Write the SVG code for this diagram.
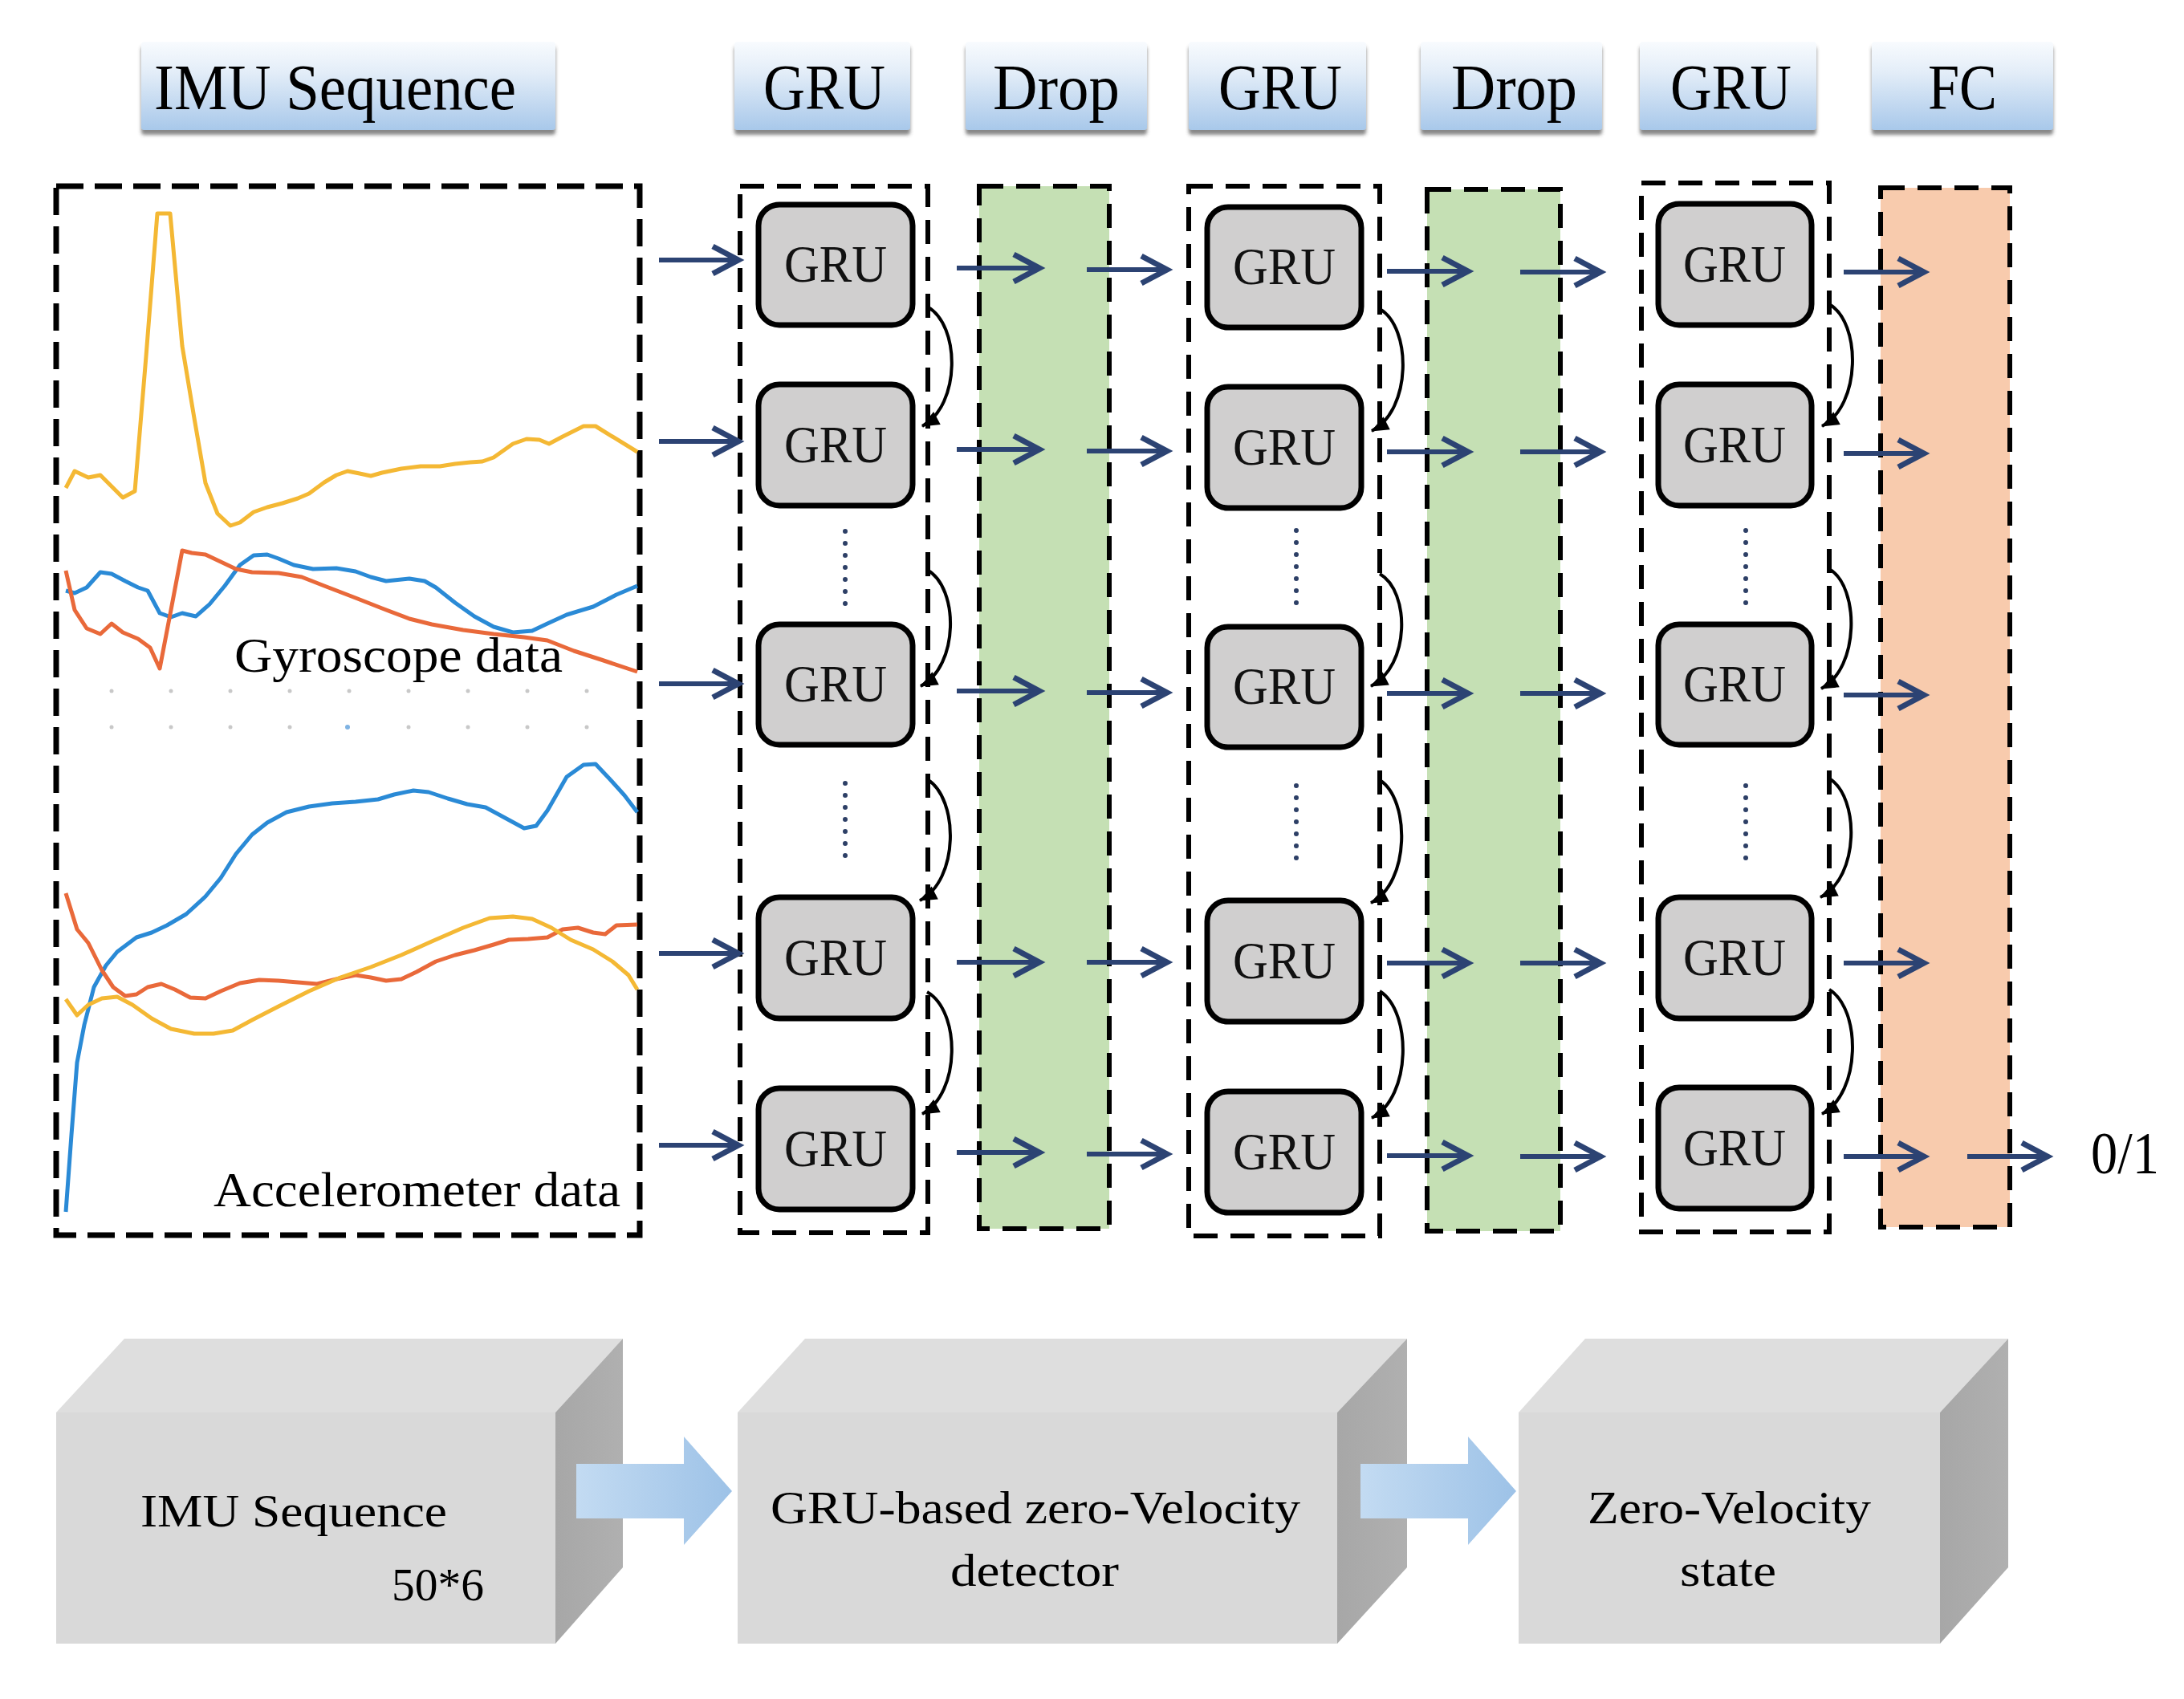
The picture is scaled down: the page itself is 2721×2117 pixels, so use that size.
<svg xmlns="http://www.w3.org/2000/svg" width="2721" height="2117" viewBox="0 0 2721 2117">
<defs>
<linearGradient id="hdr" x1="0" y1="0" x2="0" y2="1">
<stop offset="0" stop-color="#f8fbfe"/>
<stop offset="0.35" stop-color="#e3edf8"/>
<stop offset="1" stop-color="#a8c8ea"/>
</linearGradient>
<linearGradient id="blk" x1="0" y1="0" x2="1" y2="0">
<stop offset="0" stop-color="#c3dbf2"/>
<stop offset="1" stop-color="#9dc2e7"/>
</linearGradient>
<linearGradient id="side" x1="0" y1="0" x2="1" y2="0">
<stop offset="0" stop-color="#a7a7a7"/>
<stop offset="1" stop-color="#b0b0b0"/>
</linearGradient>
<filter id="shd" x="-5%" y="-10%" width="110%" height="130%">
<feDropShadow dx="0" dy="6" stdDeviation="2" flood-color="#4a4a4a" flood-opacity="0.65"/>
</filter>
<marker id="ah" markerUnits="userSpaceOnUse" markerWidth="48" markerHeight="48" viewBox="0 0 48 48" refX="40" refY="24" orient="auto">
<path d="M8,7 L40,24 L8,41" fill="none" stroke="#2c4373" stroke-width="7"/>
</marker>
<marker id="ahk" markerUnits="userSpaceOnUse" markerWidth="30" markerHeight="30" viewBox="0 0 30 30" refX="24" refY="15" orient="auto">
<path d="M3,6 L25,15 L3,24 Z" fill="#000"/>
</marker>
</defs>
<style>
.hd{fill:url(#hdr);filter:url(#shd)}
.ht{font-family:"Liberation Serif","Times New Roman",serif;font-size:80px;fill:#000}
.box{fill:none;stroke:#000;stroke-width:6;stroke-dasharray:30 16}
.gbox{fill:#c5e0b4;stroke:#000;stroke-width:6;stroke-dasharray:30 16}
.obox{fill:#f8cbad;stroke:#000;stroke-width:6;stroke-dasharray:30 16}
.cell{fill:#d0cfcf;stroke:#000;stroke-width:7}
.ct{font-family:"Liberation Serif","Times New Roman",serif;font-size:66px;fill:#111;text-anchor:middle}
.arr{fill:none;stroke:#2c4373;stroke-width:6;marker-end:url(#ah)}
.arc{fill:none;stroke:#000;stroke-width:4;marker-end:url(#ahk)}
.dots{fill:none;stroke:#2d3f66;stroke-width:6;stroke-linecap:round;stroke-dasharray:0 15}
.wy{fill:none;stroke:#f4b834;stroke-width:5;stroke-linejoin:round}
.wb{fill:none;stroke:#2a8ad6;stroke-width:5;stroke-linejoin:round}
.wo{fill:none;stroke:#e9693a;stroke-width:5;stroke-linejoin:round}
.lt{font-family:"Liberation Serif","Times New Roman",serif;font-size:62px;fill:#000}
.bt{font-family:"Liberation Serif","Times New Roman",serif;font-size:58px;fill:#000}
.front{fill:#d9d9d9}
.top{fill:#dedede}
.sd{fill:url(#side)}
.ba{fill:url(#blk)}
.tick{fill:#c8c8c8}
</style>

<g id="headers">
<g id="hdr-imu"><rect class="hd" x="176" y="52" width="516" height="110" rx="4"/><text class="ht" x="192" y="136" textLength="451" lengthAdjust="spacingAndGlyphs">IMU Sequence</text></g>
<g id="hdr-gru1"><rect class="hd" x="915" y="52" width="219" height="110" rx="4"/><text class="ht" x="951" y="136" textLength="152" lengthAdjust="spacingAndGlyphs">GRU</text></g>
<g id="hdr-drop1"><rect class="hd" x="1203" y="52" width="226" height="110" rx="4"/><text class="ht" x="1237" y="136" textLength="158" lengthAdjust="spacingAndGlyphs">Drop</text></g>
<g id="hdr-gru2"><rect class="hd" x="1481" y="52" width="221" height="110" rx="4"/><text class="ht" x="1518" y="136" textLength="154" lengthAdjust="spacingAndGlyphs">GRU</text></g>
<g id="hdr-drop2"><rect class="hd" x="1770" y="52" width="226" height="110" rx="4"/><text class="ht" x="1808" y="136" textLength="157" lengthAdjust="spacingAndGlyphs">Drop</text></g>
<g id="hdr-gru3"><rect class="hd" x="2043" y="52" width="220" height="110" rx="4"/><text class="ht" x="2081" y="136" textLength="151" lengthAdjust="spacingAndGlyphs">GRU</text></g>
<g id="hdr-fc"><rect class="hd" x="2332" y="52" width="226" height="110" rx="4"/><text class="ht" x="2402" y="136" textLength="86" lengthAdjust="spacingAndGlyphs">FC</text></g>
</g>

<g id="imu-data">
<rect class="box" x="70" y="232" width="727" height="1307" style="stroke-width:7;stroke-dasharray:34 14"/>
<g id="ticks">
<circle class="tick" cx="139" cy="861" r="2.5"/><circle class="tick" cx="213" cy="861" r="2.5"/><circle class="tick" cx="287" cy="861" r="2.5"/><circle class="tick" cx="361" cy="861" r="2.5"/><circle class="tick" cx="435" cy="861" r="2.5"/><circle class="tick" cx="509" cy="861" r="2.5"/><circle class="tick" cx="583" cy="861" r="2.5"/><circle class="tick" cx="657" cy="861" r="2.5"/><circle class="tick" cx="731" cy="861" r="2.5"/>
<circle class="tick" cx="139" cy="906" r="2.5"/><circle class="tick" cx="213" cy="906" r="2.5"/><circle class="tick" cx="287" cy="906" r="2.5"/><circle class="tick" cx="361" cy="906" r="2.5"/><circle cx="433" cy="906" r="3" fill="#7fb3e3"/><circle class="tick" cx="509" cy="906" r="2.5"/><circle class="tick" cx="583" cy="906" r="2.5"/><circle class="tick" cx="657" cy="906" r="2.5"/><circle class="tick" cx="731" cy="906" r="2.5"/>
</g>
<polyline class="wy" points="82,608 93,587 110,595 125,592 139,606 153,620 168,612 182,444 196,266 212,266 227,431 242,521 256,602 271,640 287,655 299,651 316,638 333,632 352,627 371,621 385,615 404,601 419,592 433,587 448,590 462,593 476,589 500,584 524,581 548,581 567,578 586,576 601,575 615,570 639,553 656,547 672,548 684,553 701,544 727,531 742,531 763,544 794,563"/>
<polyline class="wb" points="82,736 93,739 108,732 125,713 139,715 156,724 172,732 184,736 199,764 213,769 227,764 244,768 261,753 280,730 299,704 316,692 333,691 347,696 366,704 390,709 419,708 443,712 462,719 481,724 510,721 529,724 543,732 567,751 591,768 615,781 639,788 663,786 682,777 706,766 739,756 768,741 794,730"/>
<polyline class="wo" points="82,711 93,760 108,783 125,790 139,777 153,788 172,796 187,807 199,833 213,760 227,686 239,689 256,691 275,700 294,709 314,713 347,714 376,719 404,730 443,745 476,758 510,771 538,778 577,785 615,790 653,794 682,798 715,811 749,822 794,837"/>
<text class="lt" x="292" y="837" textLength="409" lengthAdjust="spacingAndGlyphs">Gyroscope data</text>
<polyline class="wb" points="82,1510 89,1414 96,1324 105,1277 117,1230 132,1203 146,1186 170,1168 189,1162 208,1153 232,1139 256,1117 275,1094 294,1064 314,1040 333,1025 357,1012 385,1005 414,1001 443,999 471,996 491,990 515,985 534,987 558,995 582,1002 605,1006 629,1019 653,1032 668,1029 682,1010 706,968 727,953 742,952 759,970 778,991 794,1012"/>
<polyline class="wo" points="82,1113 96,1158 110,1175 127,1209 141,1230 156,1241 170,1239 184,1230 201,1226 218,1233 237,1243 256,1244 275,1235 299,1225 323,1221 347,1222 371,1224 395,1226 419,1220 443,1215 462,1218 481,1222 500,1220 519,1211 543,1198 567,1190 591,1184 615,1177 634,1171 658,1170 682,1168 701,1158 720,1156 739,1162 754,1164 768,1153 794,1152"/>
<polyline class="wy" points="82,1245 96,1265 110,1252 127,1244 146,1242 165,1252 189,1269 213,1282 242,1288 266,1288 290,1284 314,1271 347,1254 385,1235 424,1218 462,1205 500,1190 538,1173 577,1156 610,1144 639,1142 663,1145 687,1156 711,1171 739,1183 763,1198 783,1215 794,1233"/>
<text class="lt" x="266" y="1503" textLength="507" lengthAdjust="spacingAndGlyphs">Accelerometer data</text>
</g>

<g id="drop1"><rect class="gbox" x="1220" y="232" width="162" height="1299"/></g>
<g id="drop2"><rect class="gbox" x="1778" y="236" width="166" height="1298"/></g>
<g id="fc"><rect class="obox" x="2343" y="234" width="161" height="1295"/></g>

<g id="gru-col1">
<rect class="box" x="922" y="232" width="234" height="1304"/>
<rect class="cell" x="945" y="255" width="192" height="150" rx="26"/><text class="ct" x="1041" y="351" textLength="128" lengthAdjust="spacingAndGlyphs">GRU</text>
<rect class="cell" x="945" y="479" width="192" height="151" rx="26"/><text class="ct" x="1041" y="576" textLength="128" lengthAdjust="spacingAndGlyphs">GRU</text>
<rect class="cell" x="945" y="778" width="192" height="150" rx="26"/><text class="ct" x="1041" y="874" textLength="128" lengthAdjust="spacingAndGlyphs">GRU</text>
<rect class="cell" x="945" y="1118" width="192" height="151" rx="26"/><text class="ct" x="1041" y="1215" textLength="128" lengthAdjust="spacingAndGlyphs">GRU</text>
<rect class="cell" x="945" y="1356" width="192" height="151" rx="26"/><text class="ct" x="1041" y="1453" textLength="128" lengthAdjust="spacingAndGlyphs">GRU</text>
<path class="dots" d="M1053,662 V760 M1053,976 V1079"/>
</g>

<g id="gru-col2">
<rect class="box" x="1481" y="232" width="238" height="1308"/>
<rect class="cell" x="1504" y="258" width="192" height="150" rx="26"/><text class="ct" x="1600" y="354" textLength="128" lengthAdjust="spacingAndGlyphs">GRU</text>
<rect class="cell" x="1504" y="482" width="192" height="151" rx="26"/><text class="ct" x="1600" y="579" textLength="128" lengthAdjust="spacingAndGlyphs">GRU</text>
<rect class="cell" x="1504" y="781" width="192" height="150" rx="26"/><text class="ct" x="1600" y="877" textLength="128" lengthAdjust="spacingAndGlyphs">GRU</text>
<rect class="cell" x="1504" y="1122" width="192" height="151" rx="26"/><text class="ct" x="1600" y="1219" textLength="128" lengthAdjust="spacingAndGlyphs">GRU</text>
<rect class="cell" x="1504" y="1360" width="192" height="151" rx="26"/><text class="ct" x="1600" y="1457" textLength="128" lengthAdjust="spacingAndGlyphs">GRU</text>
<path class="dots" d="M1615,661 V766 M1615,979 V1082"/>
</g>

<g id="gru-col3">
<rect class="box" x="2045" y="228" width="234" height="1307"/>
<rect class="cell" x="2066" y="254" width="191" height="151" rx="26"/><text class="ct" x="2161" y="351" textLength="128" lengthAdjust="spacingAndGlyphs">GRU</text>
<rect class="cell" x="2066" y="479" width="191" height="151" rx="26"/><text class="ct" x="2161" y="576" textLength="128" lengthAdjust="spacingAndGlyphs">GRU</text>
<rect class="cell" x="2066" y="778" width="191" height="150" rx="26"/><text class="ct" x="2161" y="874" textLength="128" lengthAdjust="spacingAndGlyphs">GRU</text>
<rect class="cell" x="2066" y="1118" width="191" height="151" rx="26"/><text class="ct" x="2161" y="1215" textLength="128" lengthAdjust="spacingAndGlyphs">GRU</text>
<rect class="cell" x="2066" y="1355" width="191" height="151" rx="26"/><text class="ct" x="2161" y="1452" textLength="128" lengthAdjust="spacingAndGlyphs">GRU</text>
<path class="dots" d="M2175,661 V766 M2175,979 V1082"/>
</g>

<g id="output"><text x="2605" y="1462" font-family="Liberation Serif, Times New Roman, serif" font-size="74" textLength="85" lengthAdjust="spacingAndGlyphs">0/1</text></g>

<g id="connectors">
<path class="arr" d="M821,324 H920"/><path class="arr" d="M821,550 H920"/><path class="arr" d="M821,852 H920"/><path class="arr" d="M821,1188 H920"/><path class="arr" d="M821,1427 H920"/>
<path class="arr" d="M1192,334 H1295"/><path class="arr" d="M1192,560 H1295"/><path class="arr" d="M1192,861 H1295"/><path class="arr" d="M1192,1199 H1295"/><path class="arr" d="M1192,1436 H1295"/>
<path class="arr" d="M1354,336 H1454"/><path class="arr" d="M1354,562 H1454"/><path class="arr" d="M1354,863 H1454"/><path class="arr" d="M1354,1199 H1454"/><path class="arr" d="M1354,1438 H1454"/>
<path class="arr" d="M1728,338 H1829"/><path class="arr" d="M1728,563 H1829"/><path class="arr" d="M1728,864 H1829"/><path class="arr" d="M1728,1200 H1829"/><path class="arr" d="M1728,1440 H1829"/>
<path class="arr" d="M1894,339 H1994"/><path class="arr" d="M1894,563 H1994"/><path class="arr" d="M1894,864 H1994"/><path class="arr" d="M1894,1200 H1994"/><path class="arr" d="M1894,1441 H1994"/>
<path class="arr" d="M2297,339 H2397"/><path class="arr" d="M2297,565 H2397"/><path class="arr" d="M2297,866 H2397"/><path class="arr" d="M2297,1200 H2397"/><path class="arr" d="M2297,1441 H2397"/>
<path class="arr" d="M2451,1441 H2551"/>
<path class="arc" d="M1155,382 C1197,405 1197,505 1149,531"/>
<path class="arc" d="M1155,710 C1195,732 1195,830 1147,855"/>
<path class="arc" d="M1155,971 C1195,995 1195,1097 1146,1122"/>
<path class="arc" d="M1155,1236 C1197,1260 1197,1362 1149,1388"/>
<path class="arc" d="M1719,385 C1759,408 1759,511 1709,537"/>
<path class="arc" d="M1719,715 C1757,737 1757,830 1708,855"/>
<path class="arc" d="M1719,972 C1757,996 1757,1100 1708,1125"/>
<path class="arc" d="M1719,1235 C1759,1260 1759,1367 1709,1393"/>
<path class="arc" d="M2279,379 C2319,402 2319,505 2270,531"/>
<path class="arc" d="M2279,709 C2317,731 2317,833 2269,858"/>
<path class="arc" d="M2279,970 C2317,993 2317,1093 2268,1118"/>
<path class="arc" d="M2279,1233 C2319,1257 2319,1362 2270,1388"/>
</g>

<g id="pipeline">
<g id="blk-imu">
<polygon class="top" points="70,1760 155,1668 776,1668 692,1760"/>
<polygon class="front" points="70,1760 692,1760 692,2048 70,2048"/>
<polygon class="sd" points="692,1760 776,1668 776,1953 692,2048"/>
<text class="bt" x="175" y="1902" textLength="382" lengthAdjust="spacingAndGlyphs">IMU Sequence</text>
<text class="bt" x="488" y="1994" textLength="115" lengthAdjust="spacingAndGlyphs">50*6</text>
</g>
<g id="blk-gru">
<polygon class="top" points="919,1760 1003,1668 1753,1668 1666,1760"/>
<polygon class="front" points="919,1760 1666,1760 1666,2048 919,2048"/>
<polygon class="sd" points="1666,1760 1753,1668 1753,1953 1666,2048"/>
<text class="bt" x="960" y="1898" textLength="660" lengthAdjust="spacingAndGlyphs">GRU-based zero-Velocity</text>
<text class="bt" x="1184" y="1976" textLength="210" lengthAdjust="spacingAndGlyphs">detector</text>
</g>
<g id="blk-zv">
<polygon class="top" points="1892,1760 1975,1668 2502,1668 2417,1760"/>
<polygon class="front" points="1892,1760 2417,1760 2417,2048 1892,2048"/>
<polygon class="sd" points="2417,1760 2502,1668 2502,1953 2417,2048"/>
<text class="bt" x="1978" y="1898" textLength="353" lengthAdjust="spacingAndGlyphs">Zero-Velocity</text>
<text class="bt" x="2093" y="1976" textLength="120" lengthAdjust="spacingAndGlyphs">state</text>
</g>
<g id="flow">
<polygon class="ba" points="718,1824 852,1824 852,1790 912,1858 852,1925 852,1892 718,1892"/>
<polygon class="ba" points="1695,1824 1829,1824 1829,1790 1889,1858 1829,1925 1829,1892 1695,1892"/>
</g>
</g>
</svg>
